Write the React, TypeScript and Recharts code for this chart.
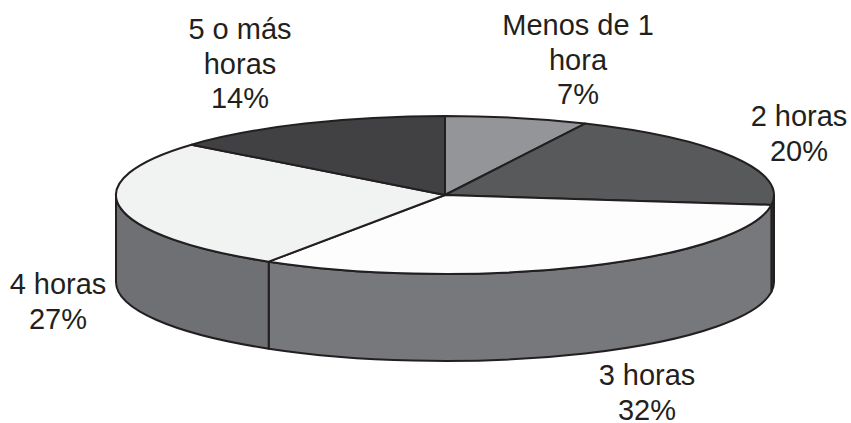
import React from "react";
import { PieChart, Pie, Cell } from "recharts";

const categories = ["Menos de 1 hora", "2 horas", "3 horas", "4 horas", "5 o más horas"];
const shares = [7, 20, 32, 27, 14];
const topColors = ["#939598", "#58595b", "#fdfdfd", "#f1f2f2", "#414042"];
const wallColors = ["#6d6e71", "#3a3a3c", "#77787b", "#6f7073", "#333333"];
const labelLines = [["Menos de 1", "hora", "7%"], ["2 horas", "20%"], ["3 horas", "32%"], ["4 horas", "27%"], ["5 o más", "horas", "14%"]];

const rows = categories.map((name, i) => ({ name, value: shares[i], index: i }));

const WIDTH = 851;
const HEIGHT = 423;
const CX = 445;
const CY = 195;
const RX = 329;
const SQUASH = 0.24;
const DEPTH = 87;
const INK = "#231f20";
const labelAnchors = [
  { x: 578, y: 35 },
  { x: 799, y: 126 },
  { x: 647, y: 385 },
  { x: 58, y: 294 },
  { x: 240, y: 39 },
];
const LINE_GAP = 34.5;

const pt = (cx: number, cy: number, rx: number, deg: number) => {
  const a = (-deg * Math.PI) / 180;
  return { x: cx + rx * Math.cos(a), y: cy + rx * SQUASH * Math.sin(a) };
};

// Sector drawn on a flattened disc, using the angles computed by the library
const Sector3D = (props: any) => {
  const { cx, cy, outerRadius: r, startAngle, endAngle, fill, index } = props;
  const s = pt(cx, cy, r, startAngle);
  const e = pt(cx, cy, r, endAngle);
  const ry = r * SQUASH;
  const large = Math.abs(endAngle - startAngle) > 180 ? 1 : 0;
  // visible rim: the part of the sector lying in the front half of the disc (180..360 degrees)
  const a = Math.min(startAngle + 360, 360);
  const b = Math.max(endAngle + 360, 180);
  let wall: string | null = null;
  if (a > b) {
    const p1 = pt(cx, cy, r, a);
    const p2 = pt(cx, cy, r, b);
    const big = a - b > 180 ? 1 : 0;
    wall =
      `M${p1.x},${p1.y} A${r},${ry} 0 ${big} 1 ${p2.x},${p2.y} ` +
      `L${p2.x},${p2.y + DEPTH} A${r},${ry} 0 ${big} 0 ${p1.x},${p1.y + DEPTH} Z`;
  }
  return (
    <g>
      {wall && <path d={wall} fill={wallColors[index]} stroke={INK} strokeWidth={2} strokeLinejoin="round" />}
      <path
        d={`M${cx},${cy} L${s.x},${s.y} A${r},${ry} 0 ${large} 1 ${e.x},${e.y} Z`}
        fill={fill}
        stroke={INK}
        strokeWidth={2}
        strokeLinejoin="round"
      />
    </g>
  );
};

const renderLabel = (props: any) => {
  const i = props.index;
  const anchor = labelAnchors[i];
  return (
    <text
      x={anchor.x}
      y={anchor.y}
      textAnchor="middle"
      fill={INK}
      fontSize={29}
      fontFamily="'Liberation Sans', Arial, sans-serif"
    >
      {labelLines[i].map((line, k) => (
        <tspan key={k} x={anchor.x} y={anchor.y + k * LINE_GAP}>
          {line}
        </tspan>
      ))}
    </text>
  );
};

export default function App() {
  return (
    <div style={{ position: "absolute", left: 0, top: 0, width: WIDTH, height: HEIGHT, background: "#fff" }}>
      <PieChart width={WIDTH} height={HEIGHT} margin={{ top: 0, right: 0, bottom: 0, left: 0 }}>
        <Pie
          data={rows}
          dataKey="value"
          nameKey="name"
          cx={CX}
          cy={CY}
          outerRadius={RX}
          innerRadius={0}
          startAngle={90}
          endAngle={-270}
          paddingAngle={0}
          shape={Sector3D}
          label={renderLabel}
          labelLine={false}
          isAnimationActive={false}
        >
          {rows.map((r) => (
            <Cell key={r.name} fill={topColors[r.index]} />
          ))}
        </Pie>
      </PieChart>
    </div>
  );
}
